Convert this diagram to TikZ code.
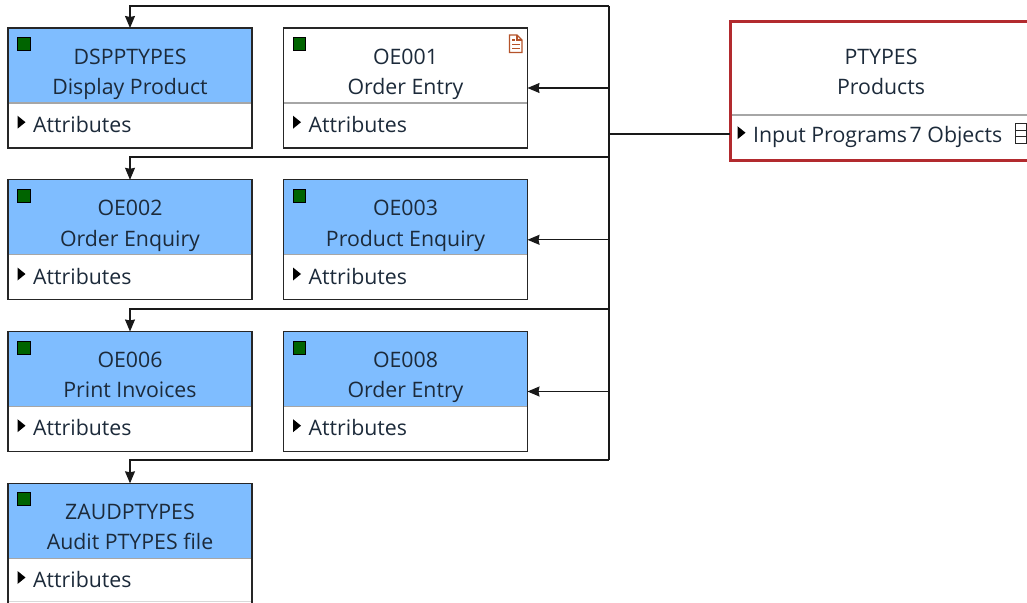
\documentclass[tikz,border=0pt]{standalone}
\usepackage{fontspec}
\setmainfont{Open Sans}
\usetikzlibrary{calc,arrows.meta,positioning}
\definecolor{headblue}{HTML}{7FBDFF}
\definecolor{statusgreen}{HTML}{006400}
\definecolor{ptypesred}{HTML}{B22A2E}
\definecolor{docorange}{HTML}{B5532A}
\definecolor{inktext}{HTML}{1C2A3A}
\tikzset{>={Stealth[length=12pt,width=10pt,inset=1pt]}}
\tikzset{
  objbox/.style={draw=black!85,line width=1.2pt,fill=white,minimum width=244pt,minimum height=120pt,inner sep=0pt,outer sep=0pt,anchor=north west},
  mainbox/.style={draw=ptypesred,line width=3pt,fill=white,minimum width=302pt,minimum height=138.5pt,inner sep=0pt,outer sep=0pt,anchor=north west},
  objtext/.style={font=\fontsize{21.3}{24}\selectfont,text=inktext,inner sep=0pt,anchor=base},
  wire/.style={draw=black!90,line width=1.1pt},
  divider/.style={draw=black!35,line width=1.3pt}
}
% Small triangle in front of a compartment
\newcommand*{\expander}[1]
  {\fill[black] ($(#1)+(-15.5,-16.5)$) -- +(8,6.5) -- +(0,13) -- cycle}
% One object: name, position, header colour, two lines of text
\newcommand*{\objnode}[6]{
  \node[objbox] (#1) at (#2,#3) {};
  \fill[#4] (#1.north west) rectangle ($(#1.north east)+(0,75)$);
  \draw[divider] ($(#1.north west)+(0,75)$) -- ($(#1.north east)+(0,75)$);
  \draw[draw=black!85,line width=1.2pt] (#1.north west) rectangle (#1.south east);
  \draw[fill=statusgreen,draw=black,line width=1pt] ($(#1.north west)+(9.5,9.5)$) rectangle +(12.5,13);
  \node[objtext] (#1-name) at ($(#1.north)+(0,36)$) {#5};
  \node[objtext] (#1-desc) at ($(#1.north)+(0,66.3)$) {#6};
  \node[objtext,anchor=base west] (#1-attr) at ($(#1.north west)+(25,104.2)$) {Attributes};
  \expander{#1-attr.base west};
}

\begin{document}
\begin{tikzpicture}[x=1pt,y=-1pt]
\clip (0,0) rectangle (1027,602);
\useasboundingbox (0,0) rectangle (1027,602);

% Objects, left and right column
\objnode{dsp}{8}{28}{headblue}{DSPPTYPES}{Display Product}
\objnode{oea}{283.5}{28}{white}{OE001}{Order Entry}
\objnode{oeb}{8}{179.8}{headblue}{OE002}{Order Enquiry}
\objnode{oec}{283.5}{179.8}{headblue}{OE003}{Product Enquiry}
\objnode{oed}{8}{331.5}{headblue}{OE006}{Print Invoices}
\objnode{oee}{283.5}{331.5}{headblue}{OE008}{Order Entry}
\objnode{zaud}{8}{483.3}{headblue}{ZAUDPTYPES}{Audit PTYPES file}
\draw[black!15,line width=1pt] (9,601.5) -- (251,601.5);

% Document icon
\draw[docorange,line width=1.2pt] (509.5,35) -- (517,35) -- (522,40) -- (522,52.5) -- (509.5,52.5) -- cycle;
\draw[docorange,line width=1.1pt] (517,35) -- (517,40) -- (522,40)
  (512,40) -- (515,40) (512,44.5) -- (519.5,44.5) (512,48.5) -- (519.5,48.5);

% Main object
\node[mainbox] (ptypes) at (730,22) {};
\draw[divider] ($(ptypes.north west)+(1.5,93)$) -- ($(ptypes.north east)+(-1.5,93)$);
\node[objtext] (ptypes-name) at (881,64.3) {PTYPES};
\node[objtext] (ptypes-desc) at (881,94.6) {Products};
\node[objtext,anchor=base west] (ptypes-input) at (753,142.7) {Input Programs};
\node[objtext,anchor=base west] (ptypes-count) at (909.5,142.7) {7 Objects};
\expander{ptypes-input.base west};
\draw[black!85,line width=1pt] (1015,123.5) rectangle (1026,143) (1015,130) -- (1026,130) (1015,136.5) -- (1026,136.5);

% Trunk and branches
\coordinate (top) at (609,6);
\coordinate (low) at (609,460);
\coordinate (rowb) at (609,157);
\coordinate (rowc) at (609,309);
\coordinate (inport) at (730,134);
\draw[wire] (top) -- (low);
\draw[wire] (inport) -- (top |- inport);
\draw[wire,->] (top) -| (dsp.north);
\draw[wire,->] (rowb) -| (oeb.north);
\draw[wire,->] (rowc) -| (oed.north);
\draw[wire,->] (low) -| (zaud.north);
\draw[wire,->] (top |- oea.east) -- (oea.east);
\draw[wire,->] (top |- oec.east) -- (oec.east);
\draw[wire,->] (top |- oee.east) -- (oee.east);
\end{tikzpicture}
\end{document}
